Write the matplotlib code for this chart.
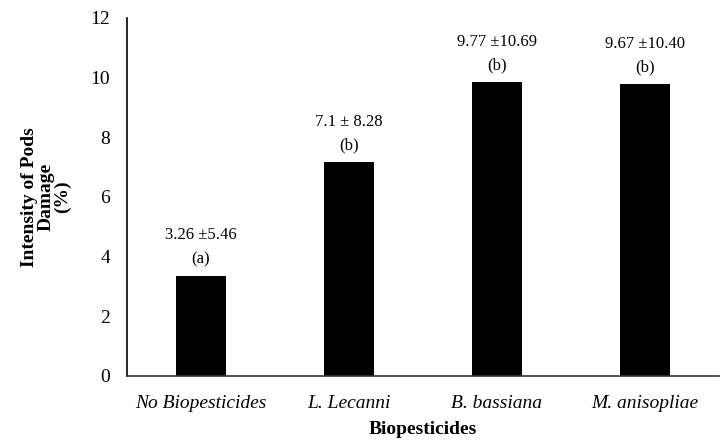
import matplotlib.pyplot as plt
import numpy as np

plt.rcParams['font.family'] = ['Liberation Serif', 'DejaVu Serif']

# data
categories = ["No Biopesticides", "L. Lecanni", "B. bassiana", "M. anisopliae"]
bar_heights = [3.36, 7.17, 9.84, 9.78]
mean_sd = ["3.26 \u00b15.46", "7.1 \u00b1 8.28", "9.77 \u00b110.69", "9.67 \u00b110.40"]
groups = ["(a)", "(b)", "(b)", "(b)"]

x = np.arange(len(categories))

fig = plt.figure(figsize=(7.21, 4.48), dpi=100)
ax = fig.add_axes([0.176, 0.161, 0.821, 0.799])

ax.bar(x, bar_heights, 0.34, color="black", zorder=2)

for xi, h, t1, t2 in zip(x, bar_heights, mean_sd, groups):
    ax.annotate(t1, (xi, h), xytext=(0, 29), textcoords="offset points",
                ha="center", va="center", fontsize=12)
    ax.annotate(t2, (xi, h), xytext=(0, 12), textcoords="offset points",
                ha="center", va="center", fontsize=12)

ax.set_xlim(-0.5, len(categories) - 0.5)
ax.set_ylim(0, 12)
ax.set_yticks(np.arange(0, 13, 2))
ax.set_xticks(x)
ax.set_xticklabels(categories, fontsize=14, style="italic")
ax.tick_params(axis="both", length=0, labelsize=14)
ax.tick_params(axis="x", pad=14)
ax.tick_params(axis="y", pad=12)

ax.spines["top"].set_visible(False)
ax.spines["right"].set_visible(False)
ax.spines["left"].set_linewidth(1.2)
ax.spines["bottom"].set_linewidth(1.2)
ax.spines["bottom"].set_color("#333333")

ax.set_xlabel("Biopesticides", fontsize=14, fontweight="bold", labelpad=6)
ax.set_ylabel("Intensity of Pods\nDamage\n(%)", fontsize=14, fontweight="bold",
              linespacing=0.95, labelpad=14)

fig.savefig("out.png", dpi=100)
